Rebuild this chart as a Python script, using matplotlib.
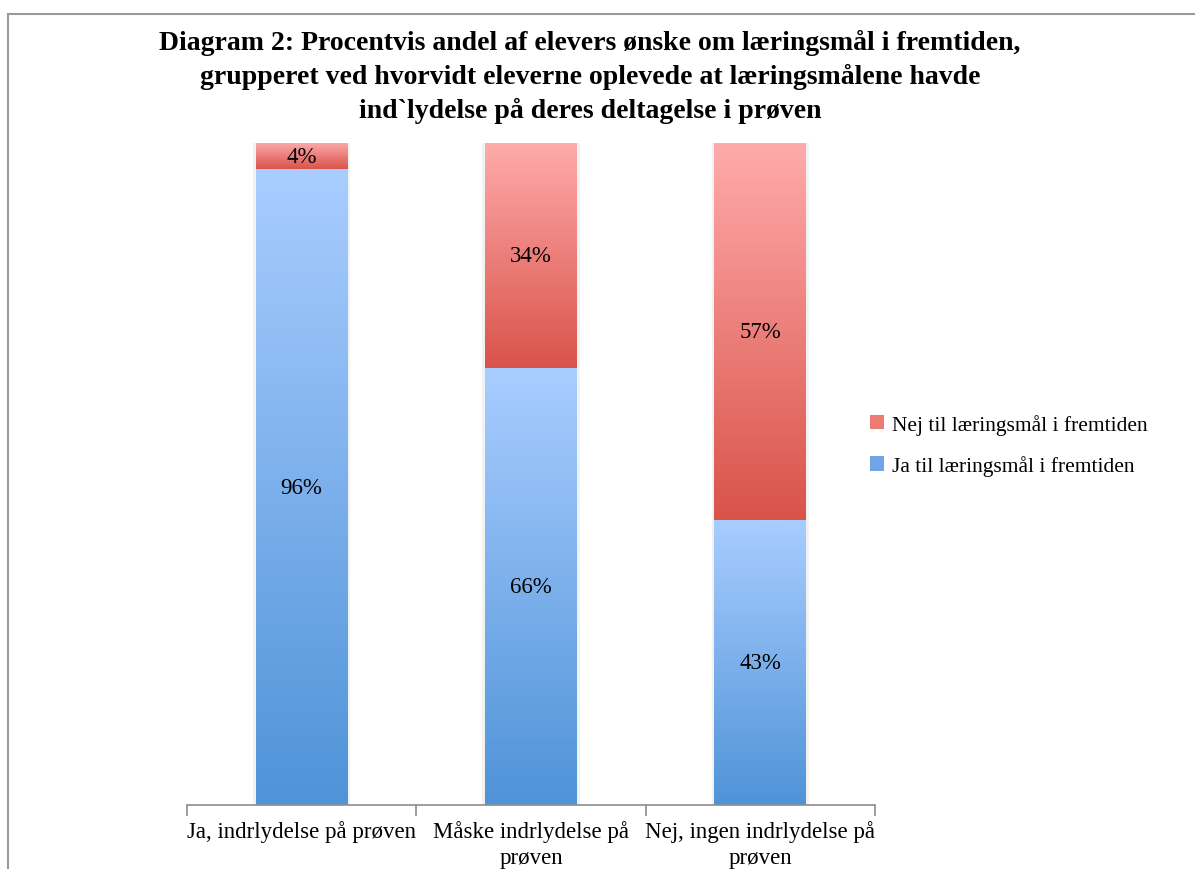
import numpy as np
import matplotlib.pyplot as plt
from matplotlib.colors import LinearSegmentedColormap
from matplotlib.patches import Rectangle

categories = ["Ja, indrlydelse på prøven", "Måske indrlydelse på\nprøven",
              "Nej, ingen indrlydelse på\nprøven"]
ja_values = [96, 66, 43]
nej_values = [4, 34, 57]
series_names = ["Ja til læringsmål i fremtiden", "Nej til læringsmål i fremtiden"]
title = ("Diagram 2: Procentvis andel af elevers ønske om læringsmål i fremtiden,\n"
         "grupperet ved hvorvidt eleverne oplevede at læringsmålene havde\n"
         "ind`lydelse på deres deltagelse i prøven")

plt.rcParams["font.family"] = ["Liberation Serif", "DejaVu Serif"]

blue_cmap = LinearSegmentedColormap.from_list("blue", ["#4f93d8", "#a9cdff"])
red_cmap = LinearSegmentedColormap.from_list("red", ["#d9534a", "#ffabab"])
blue_solid = "#6fa5e4"
red_solid = "#ec7b74"

fig = plt.figure(figsize=(11.95, 8.7), dpi=100)
ax = fig.add_axes([187 / 1195, 1 - 806 / 870, (875 - 187) / 1195, 662 / 870])

# marco exterior del grafico
fig.patches.append(Rectangle((8 / 1195, -0.1), 1.2, 1 - 15 / 870 + 0.1,
                             transform=fig.transFigure, fill=False,
                             edgecolor="#9a9a9a", linewidth=1.5))

grad = np.linspace(0, 1, 256).reshape(-1, 1)
width = 0.40
x = np.arange(len(categories))

for xi, ja, nej in zip(x, ja_values, nej_values):
    left, right = xi - width / 2, xi + width / 2
    # sombra suave
    ax.add_patch(Rectangle((left - 0.012, 0), width + 0.024, ja + nej,
                           facecolor="#000000", alpha=0.05, edgecolor="none", zorder=1))
    ax.imshow(grad, cmap=blue_cmap, origin="lower", aspect="auto",
              extent=(left, right, 0, ja), zorder=2)
    ax.imshow(grad, cmap=red_cmap, origin="lower", aspect="auto",
              extent=(left, right, ja, ja + nej), zorder=2)
    ax.text(xi, ja / 2, f"{ja}%", ha="center", va="center", fontsize=16.5, zorder=3)
    ax.text(xi, ja + nej / 2, f"{nej}%", ha="center", va="center", fontsize=16.5, zorder=3)

ax.set_xlim(-0.5, len(categories) - 0.5)
ax.set_ylim(0, 100)
ax.set_yticks([])
for side in ["top", "right", "left"]:
    ax.spines[side].set_visible(False)
ax.spines["bottom"].set_color("#8c8c8c")
ax.spines["bottom"].set_linewidth(1.2)
ax.set_xticks(np.arange(len(categories) + 1) - 0.5)
ax.set_xticklabels([])
ax.tick_params(axis="x", length=8, color="#8c8c8c", width=1.2)
for xi, cat in zip(x, categories):
    ax.text(xi, -2.3, cat, ha="center", va="top", fontsize=16.5,
            linespacing=1.3, clip_on=False)

fig.text(590 / 1195, 1 - 77 / 870, title, ha="center", va="center",
         fontsize=20, fontweight="bold", linespacing=1.4)

handles = [Rectangle((0, 0), 1, 1, facecolor=red_solid),
           Rectangle((0, 0), 1, 1, facecolor=blue_solid)]
fig.legend(handles, [series_names[1], series_names[0]],
           loc="center left", bbox_to_anchor=(851 / 1195, 1 - 446 / 870),
           frameon=False, fontsize=15.5, handlelength=0.65, handleheight=0.65,
           handletextpad=0.35, labelspacing=0.95)

fig.savefig("out.png", dpi=100)
